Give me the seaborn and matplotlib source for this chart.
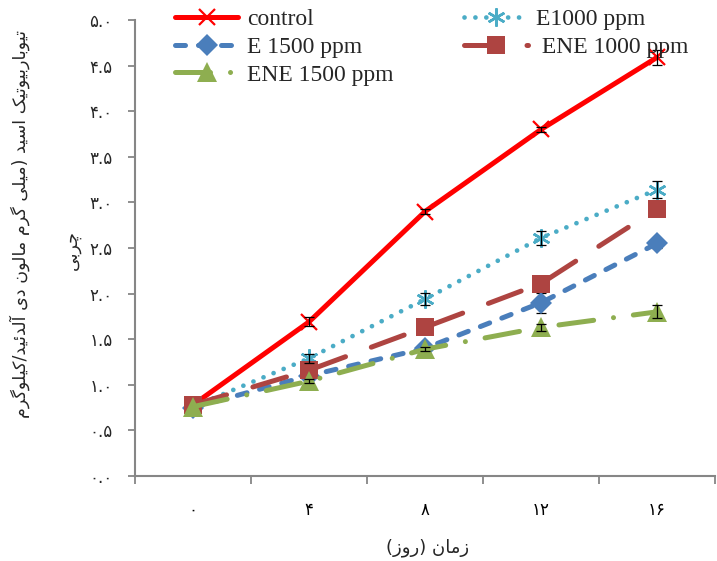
import numpy as np
import pandas as pd
import matplotlib
matplotlib.use("Agg")
import matplotlib.pyplot as plt
import seaborn as sns

# ---- data -------------------------------------------------------------
days = [0, 4, 8, 12, 16]

control = [0.78, 1.69, 2.90, 3.80, 4.59]
e1000 = [0.76, 1.29, 1.94, 2.61, 3.14]
e1500 = [0.75, 1.10, 1.40, 1.90, 2.55]
ene1000 = [0.78, 1.16, 1.63, 2.11, 2.93]
ene1500 = [0.76, 1.04, 1.39, 1.63, 1.80]

control_err = [0.00, 0.05, 0.03, 0.03, 0.08]
e1000_err = [0.00, 0.05, 0.07, 0.08, 0.09]
e1500_err = [0.02, 0.04, 0.05, 0.11, 0.05]
ene1000_err = [0.02, 0.04, 0.05, 0.05, 0.05]
ene1500_err = [0.00, 0.02, 0.02, 0.04, 0.07]

y_ticks = [0.0, 0.5, 1.0, 1.5, 2.0, 2.5, 3.0, 3.5, 4.0, 4.5, 5.0]

xlabel_text = "زمان (روز)"
ylabel_line1 = "تیوباربیوتیک اسید (میلی گرم مالون دی آلدئید/کیلوگرم"
ylabel_line2 = "چربی"

# ---- simple Persian shaping (presentation forms + visual order) -------
FORMS = {
    "ا": ("\uFE8D", "\uFE8E", None, None),
    "آ": ("\uFE81", "\uFE82", None, None),
    "ب": ("\uFE8F", "\uFE90", "\uFE91", "\uFE92"),
    "ت": ("\uFE95", "\uFE96", "\uFE97", "\uFE98"),
    "چ": ("\uFB7A", "\uFB7B", "\uFB7C", "\uFB7D"),
    "د": ("\uFEA9", "\uFEAA", None, None),
    "ر": ("\uFEAD", "\uFEAE", None, None),
    "ز": ("\uFEAF", "\uFEB0", None, None),
    "س": ("\uFEB1", "\uFEB2", "\uFEB3", "\uFEB4"),
    "ک": ("\uFB8E", "\uFB8F", "\uFB90", "\uFB91"),
    "گ": ("\uFB92", "\uFB93", "\uFB94", "\uFB95"),
    "ل": ("\uFEDD", "\uFEDE", "\uFEDF", "\uFEE0"),
    "م": ("\uFEE1", "\uFEE2", "\uFEE3", "\uFEE4"),
    "ن": ("\uFEE5", "\uFEE6", "\uFEE7", "\uFEE8"),
    "و": ("\uFEED", "\uFEEE", None, None),
    "ی": ("\uFBFC", "\uFBFD", "\uFBFE", "\uFBFF"),
    "ئ": ("\uFE89", "\uFE8A", "\uFE8B", "\uFE8C"),
}


def dual(c):
    return c in FORMS and FORMS[c][2] is not None


def joins(c):
    return c in FORMS


def shape_fa(text):
    out = []
    for i, c in enumerate(text):
        if c not in FORMS:
            out.append(c)
            continue
        prev = text[i - 1] if i > 0 else ""
        nxt = text[i + 1] if i + 1 < len(text) else ""
        to_prev = dual(prev)
        to_next = dual(c) and joins(nxt)
        iso, fin, ini, med = FORMS[c]
        if to_prev and to_next:
            out.append(med)
        elif to_prev:
            out.append(fin)
        elif to_next:
            out.append(ini)
        else:
            out.append(iso)
    mirror = {"(": ")", ")": "("}
    return "".join(mirror.get(c, c) for c in reversed(out))


FA_DIGITS = str.maketrans("0123456789", "۰۱۲۳۴۵۶۷۸۹")

# ---- figure -----------------------------------------------------------
sns.set_theme(style="white")
plt.rcParams["font.family"] = ["DejaVu Sans"]

fig = plt.figure(figsize=(7.17, 5.61), dpi=100)
ax = fig.add_axes([135 / 717, 1 - 476 / 561, 580 / 717, 456 / 561])

pos = list(range(len(days)))
# (label, values, errors, error-bar layer, line style)
series = [
    ("control", control, control_err, 3,
     dict(color="#FF0000", marker="x", ms=12, mew=1.6, linestyle="-", lw=3.6)),
    ("E1000 ppm", e1000, e1000_err, 3,
     dict(color="#4BACC6", marker=(6, 2, 0), ms=13, mew=1.8,
          linestyle=(0, (0.01, 2.3)), lw=3.4, dash_capstyle="round")),
    ("E 1500 ppm", e1500, e1500_err, 1.5,
     dict(color="#4A7EBB", marker="D", ms=11, mew=0,
          linestyle=(0, (2.0, 2.6)), lw=3.6, dash_capstyle="round")),
    (" ENE 1000 ppm", ene1000, ene1000_err, 1.5,
     dict(color="#AE4441", marker="s", ms=13, mew=0,
          linestyle=(0, (7.0, 5.5)), lw=3.6, dash_capstyle="round")),
    ("ENE 1500 ppm", ene1500, ene1500_err, 3,
     dict(color="#8EAE50", marker="^", ms=14, mew=0,
          linestyle=(0, (7.0, 4.0, 0.01, 4.0)), lw=3.6, dash_capstyle="round")),
]

handles = {}
for label, vals, errs, ez, kw in series:
    df = pd.DataFrame({"pos": pos, "val": vals, "err": errs})
    sns.lineplot(data=df, x="pos", y="val", ax=ax, label=label,
                 mec=kw["color"], mfc=kw["color"], **kw)
    handles[label] = ax.lines[-1]
    shown = df[df["err"] > 0]
    ax.errorbar(shown["pos"], shown["val"], yerr=shown["err"], fmt="none",
                ecolor="black", elinewidth=0.9, capsize=3.5, capthick=0.9, zorder=ez)

# axes styling
ax.set_xlim(-0.5, len(days) - 0.5)
ax.set_ylim(0, 5)
ax.set_yticks(y_ticks)
ax.set_yticklabels([f"{v:.1f}".translate(FA_DIGITS) for v in y_ticks])
ax.set_xticks(pos)
ax.set_xticklabels([str(d).translate(FA_DIGITS) for d in days])
ax.set_xticks(np.arange(-0.5, len(days), 1.0), minor=True)
ax.tick_params(axis="x", which="major", length=0, pad=18, labelsize=12, colors="black")
ax.tick_params(axis="x", which="minor", length=6, width=1.3, color="#868686",
               direction="out", bottom=True)
ax.tick_params(axis="y", which="major", length=5, width=1.3, color="#868686",
               direction="out", left=True, labelsize=12, pad=11)
ax.set_xlabel("")
ax.set_ylabel("")
for side in ["top", "right"]:
    ax.spines[side].set_visible(False)
for side in ["left", "bottom"]:
    ax.spines[side].set_color("#868686")
    ax.spines[side].set_linewidth(1.5)
ax.grid(False)

# axis titles
fig.text(428 / 717, 1 - 548 / 561, shape_fa(xlabel_text), ha="center", va="center",
         fontsize=13)
fig.text(20 / 717, 1 - 224 / 561, shape_fa(ylabel_line1), ha="center", va="center",
         rotation=90, fontsize=12.6)
fig.text(72 / 717, 1 - 250 / 561, shape_fa(ylabel_line2), ha="center", va="center",
         rotation=90, fontsize=12.6)

# legend
order = ["control", "E 1500 ppm", "ENE 1500 ppm", "E1000 ppm", " ENE 1000 ppm"]
if ax.get_legend():
    ax.get_legend().remove()
fig.legend([handles[k] for k in order], order, ncol=2, frameon=False,
           loc="upper left", bbox_to_anchor=(170 / 717, 1 - 4 / 561),
           prop={"family": "Liberation Serif", "size": 17},
           handlelength=2.7, handletextpad=0.35, columnspacing=3.0,
           labelspacing=0.26, borderaxespad=0.0, borderpad=0.2)

fig.savefig("out.png", dpi=100, facecolor="white")
